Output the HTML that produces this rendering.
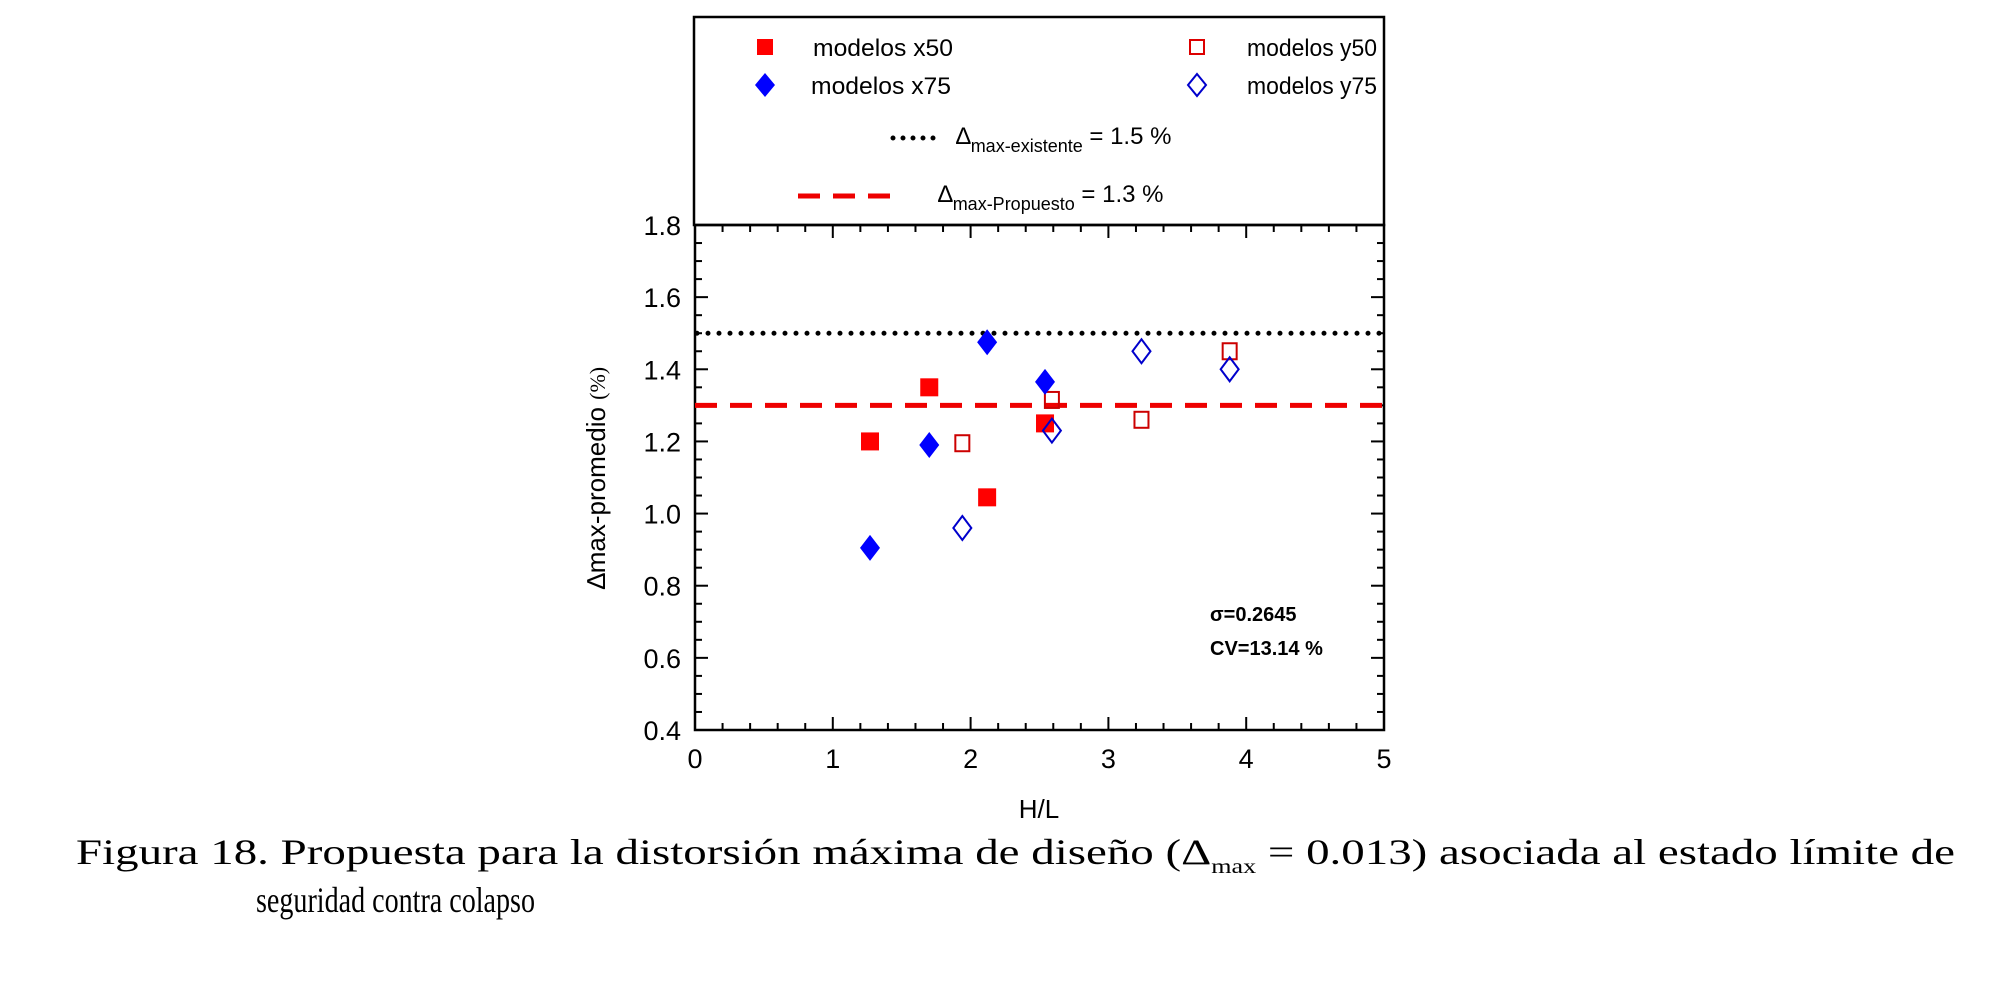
<!DOCTYPE html>
<html><head><meta charset="utf-8"><style>
body{margin:0;background:#fff;}
svg{display:block;font-family:"Liberation Sans",sans-serif;}
</style></head><body>
<svg width="1997" height="987" viewBox="0 0 1997 987">
<rect x="0" y="0" width="1997" height="987" fill="#fff"/>
<g id="axes"></g>
<g id="marks"></g>
<rect x="694" y="17" width="690" height="208" fill="none" stroke="#000" stroke-width="2.5"/>
<g font-size="24">
<rect x="757" y="39" width="16" height="16" fill="#f00"/>
<text x="813" y="56" textLength="140" lengthAdjust="spacingAndGlyphs">modelos x50</text>
<rect x="1190" y="40" width="14" height="14" fill="none" stroke="#d00" stroke-width="2"/>
<text x="1247" y="56" textLength="130" lengthAdjust="spacingAndGlyphs">modelos y50</text>
<polygon points="765,73 775,85 765,97 755,85" fill="#00f"/>
<text x="811" y="94" textLength="140" lengthAdjust="spacingAndGlyphs">modelos x75</text>
<polygon points="1197,74 1206,85 1197,96 1188,85" fill="none" stroke="#00c" stroke-width="2"/>
<text x="1247" y="94" textLength="130" lengthAdjust="spacingAndGlyphs">modelos y75</text>
<line x1="893" y1="138" x2="942" y2="138" stroke="#000" stroke-width="5" stroke-dasharray="0 10" stroke-linecap="round"/>
<text x="956" y="144">∆<tspan font-size="18" dy="8">max-existente</tspan><tspan dy="-8"> = 1.5 %</tspan></text>
<line x1="798" y1="196" x2="900" y2="196" stroke="#e00" stroke-width="5" stroke-dasharray="22 13"/>
<text x="938" y="202">∆<tspan font-size="18" dy="8">max-Propuesto</tspan><tspan dy="-8"> = 1.3 %</tspan></text>
</g>
<text x="1210" y="621" font-size="20" font-weight="bold">σ=0.2645</text>
<text x="1210" y="655" font-size="20" font-weight="bold">CV=13.14 %</text>
<text x="1039" y="818" font-size="26" text-anchor="middle">H/L</text>
<text transform="translate(605,478) rotate(-90)" font-size="26" text-anchor="middle">∆max-promedio <tspan font-family="Liberation Serif" font-size="22">(%)</tspan></text>
<g font-family="Liberation Serif,serif" font-size="36">
<text x="76" y="864" textLength="1879" lengthAdjust="spacingAndGlyphs">Figura 18. Propuesta para la distorsión máxima de diseño (Δ<tspan font-size="20" dy="9">max</tspan><tspan dy="-9"> = 0.013) asociada al estado límite de</tspan></text>
<text x="256" y="912" textLength="279" lengthAdjust="spacingAndGlyphs">seguridad contra colapso</text>
</g>
</svg>
<script>
const xTicks=[0,1,2,3,4,5];
const yTicks=[0.4,0.6,0.8,1.0,1.2,1.4,1.6,1.8];
const x50X=[1.27,1.70,2.12,2.54];
const x50Y=[1.20,1.35,1.045,1.25];
const x75X=[1.27,1.70,2.12,2.54];
const x75Y=[0.905,1.19,1.475,1.365];
const y50X=[1.94,2.59,3.24,3.88];
const y50Y=[1.195,1.315,1.26,1.45];
const y75X=[1.94,2.59,3.24,3.88];
const y75Y=[0.96,1.23,1.45,1.40];
const refExist=[1.5];
const refProp=[1.3];
const L=695,R=1384,T=225,B=730;
const sx=v=>L+(v-0)/(5-0)*(R-L);
const sy=v=>B-(v-0.4)/(1.8-0.4)*(B-T);
const NS='http://www.w3.org/2000/svg';
function mk(tag,attrs,parent){const e=document.createElementNS(NS,tag);for(const k in attrs)e.setAttribute(k,attrs[k]);parent.appendChild(e);return e;}
const ax=document.getElementById('axes');
const mg=document.getElementById('marks');
let fr=mk('rect',{x:L,y:T,width:R-L,height:B-T,fill:'none',stroke:'#000','stroke-width':2.5},ax);


for(let i=0;i<=25;i++){const v=i*0.2;const X=sx(v);const major=i%5===0;const len=major?13:7;
 let t=mk('line',{x1:X,y1:B,x2:X,y2:B-len,stroke:'#000','stroke-width':2},ax);
 
 
 let t2=mk('line',{x1:X,y1:T,x2:X,y2:T+len,stroke:'#000','stroke-width':2},ax);
 
 }
xTicks.forEach(v=>{let t=mk('text',{x:sx(v),y:B+38,'font-size':27,'text-anchor':'middle'},ax);t.textContent=v;
 
 });
for(let i=0;i<=28;i++){const v=0.4+i*0.05;const Y=sy(v);const major=i%4===0;const len=major?13:7;
 let t=mk('line',{x1:L,y1:Y,x2:L+len,y2:Y,stroke:'#000','stroke-width':2},ax);
 
 
 let t2=mk('line',{x1:R,y1:Y,x2:R-len,y2:Y,stroke:'#000','stroke-width':2},ax);
 
 }
yTicks.forEach(v=>{let t=mk('text',{x:L-14,y:sy(v)+10,'font-size':27,'text-anchor':'end'},ax);t.textContent=v.toFixed(1);
 
 });
let le=mk('line',{x1:L+2,y1:sy(refExist[0]),x2:R-2,y2:sy(refExist[0]),stroke:'#000','stroke-width':5,'stroke-dasharray':'0 11','stroke-linecap':'round'},mg);


let lp=mk('line',{x1:L,y1:sy(refProp[0]),x2:R,y2:sy(refProp[0]),stroke:'#e00','stroke-width':5,'stroke-dasharray':'22 13'},mg);


x50X.forEach((x,i)=>{let e=mk('rect',{x:sx(x)-9,y:sy(x50Y[i])-9,width:18,height:18,fill:'#f00'},mg);
 
 });
y50X.forEach((x,i)=>{let e=mk('rect',{x:sx(x)-7,y:sy(y50Y[i])-8,width:14,height:16,fill:'none',stroke:'#c00','stroke-width':2},mg);
 
 });
x75X.forEach((x,i)=>{const X=sx(x),Y=sy(x75Y[i]);let e=mk('polygon',{points:`${X},${Y-13} ${X+10},${Y} ${X},${Y+13} ${X-10},${Y}`,fill:'#00f'},mg);
 
 });
y75X.forEach((x,i)=>{const X=sx(x),Y=sy(y75Y[i]);let e=mk('polygon',{points:`${X},${Y-12} ${X+9},${Y} ${X},${Y+12} ${X-9},${Y}`,fill:'none',stroke:'#00c','stroke-width':2},mg);
 
 });
</script>
</body></html>
